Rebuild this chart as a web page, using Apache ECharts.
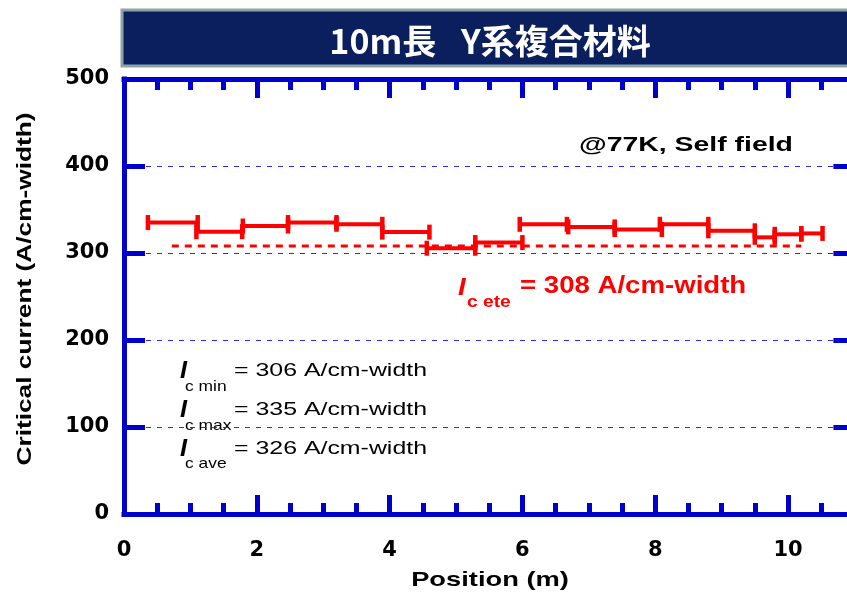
<!DOCTYPE html>
<html>
<head>
<meta charset="utf-8">
<script src="https://cdn.jsdelivr.net/npm/echarts@6/dist/echarts.min.js"></script>
<style>
html,body{margin:0;padding:0;background:#fff;}
#chart{width:847px;height:595px;}
</style>
</head>
<body>
<div id="chart"></div>
<script>
// ---- data ----
const segStart = [0.36, 1.09, 1.79, 2.47, 3.20, 3.89, 4.56, 5.29, 5.96, 6.69, 7.39, 8.07, 8.80, 9.50, 9.80, 10.20];
const segEnd   = [1.11, 1.78, 2.47, 3.20, 3.89, 4.60, 5.29, 6.00, 6.67, 7.39, 8.10, 8.80, 9.50, 9.80, 10.20, 10.52];
const icValues = [335, 324.5, 331, 335, 333, 324, 305.5, 312, 333, 330, 327, 333, 325.5, 318, 321.5, 322.5];
const eteRange = [0.72, 10.2];
const eteValue = 308;
const titleText = '10m長\u2002 Y系複合材料';
const xTitle = 'Position (m)';
const yTitle = 'Critical current (A/cm-width)';
const condText = '@77K, Self field';
const statSubs = ['c min', 'c max', 'c ave'];
const statTexts = ['= 306 A/cm-width', '= 335 A/cm-width', '= 326 A/cm-width'];
const eteSub = 'c ete';
const eteText = '= 308 A/cm-width';

const BLUE = '#0000cc';
const RED = '#ff0000';
const chart = echarts.init(document.getElementById('chart'), null, {renderer: 'canvas'});

const segData = segStart.map((s, i) => [s, segEnd[i], icValues[i]]);

const axisFont = {fontFamily: 'DejaVu Sans', fontWeight: 'bold', fontSize: 21, color: '#000'};

function xAxisCfg(pos, showLabel) {
  return {
    type: 'value', position: pos, min: 0, max: 12, interval: 2,
    axisLine: {show: true, onZero: false, lineStyle: {color: BLUE, width: 5, cap: 'square'}},
    axisTick: {show: true, inside: true, length: 19, lineStyle: {color: BLUE, width: 5}},
    minorTick: {show: true, splitNumber: 4, length: 11, lineStyle: {color: BLUE, width: 5}},
    axisLabel: Object.assign({show: showLabel, margin: 26, showMaxLabel: false}, axisFont),
    splitLine: {show: false}
  };
}

const statGraphics = [];
const rowY = [372, 411, 450];
const subY = [387, 426, 464];
for (let i = 0; i < 3; i++) {
  statGraphics.push({type: 'text', x: 180, y: rowY[i], scaleX: 1.1,
    style: {text: 'I', fontFamily: 'Liberation Sans', fontStyle: 'italic', fontWeight: 'bold', fontSize: 23, fill: '#000', align: 'left', verticalAlign: 'middle'}});
  statGraphics.push({type: 'text', x: 185, y: subY[i], scaleX: 1.2,
    style: {text: statSubs[i], fontFamily: 'Liberation Sans', fontSize: 14.5, fill: '#000', align: 'left', verticalAlign: 'middle'}});
  statGraphics.push({type: 'text', x: 234, y: rowY[i] - 1, scaleX: 1.31,
    style: {text: statTexts[i], fontFamily: 'Liberation Sans', fontSize: 19, fill: '#000', align: 'left', verticalAlign: 'middle'}});
}

const option = {
  animation: false,
  backgroundColor: '#fff',
  grid: {left: 124, top: 79, width: 796.8, height: 435, containLabel: false, outerBoundsMode: 'none'},
  xAxis: [xAxisCfg('bottom', true), xAxisCfg('top', false)],
  yAxis: [
    {
      type: 'value', position: 'left', min: 0, max: 500, interval: 100,
      axisLine: {show: true, onZero: false, lineStyle: {color: BLUE, width: 5, cap: 'square'}},
      axisTick: {show: true, inside: true, length: 21, lineStyle: {color: BLUE, width: 5}},
      axisLabel: Object.assign({margin: 15}, axisFont),
      splitLine: {show: true, lineStyle: {color: '#2a2ad8', width: 1, type: [5, 6]}}
    },
    {
      type: 'value', position: 'right', offset: -66.4, min: 0, max: 500, interval: 100,
      axisLine: {show: true, onZero: false, lineStyle: {color: BLUE, width: 5, cap: 'square'}},
      axisTick: {show: true, inside: true, length: 21, lineStyle: {color: BLUE, width: 5}},
      axisLabel: {show: false},
      splitLine: {show: false}
    }
  ],
  series: [
    {
      type: 'line', name: 'ete', xAxisIndex: 0, yAxisIndex: 0, z: 3,
      data: [[eteRange[0], eteValue], [eteRange[1], eteValue]],
      symbol: 'none',
      lineStyle: {color: RED, width: 3, type: [7, 6]}
    },
    {
      type: 'custom', name: 'Ic', xAxisIndex: 0, yAxisIndex: 0, z: 4,
      data: segData,
      encode: {x: [0, 1], y: 2},
      renderItem: function (params, api) {
        const s = api.coord([api.value(0), api.value(2)]);
        const e = api.coord([api.value(1), api.value(2)]);
        const capH = 15, capW = 4.5;
        return {
          type: 'group',
          children: [
            {type: 'line', shape: {x1: s[0], y1: s[1], x2: e[0], y2: e[1]}, style: {stroke: RED, lineWidth: 4}},
            {type: 'rect', shape: {x: s[0] - capW / 2, y: s[1] - capH / 2, width: capW, height: capH}, style: {fill: RED}},
            {type: 'rect', shape: {x: e[0] - capW / 2, y: e[1] - capH / 2, width: capW, height: capH}, style: {fill: RED}}
          ]
        };
      }
    }
  ],
  graphic: [
    {type: 'rect', z: 10, shape: {x: 122, y: 10, width: 740, height: 56},
      style: {fill: '#0b1f5e', stroke: '#8fa3a6', lineWidth: 3}},
    {type: 'text', z: 11, x: 490, y: 41,
      style: {text: titleText, fontFamily: 'Noto Sans CJK JP', fontWeight: 'bold', fontSize: 34, fill: '#fff', align: 'center', verticalAlign: 'middle'}},
    {type: 'text', x: 490, y: 580, scaleX: 1.3,
      style: {text: xTitle, fontFamily: 'Liberation Sans', fontWeight: 'bold', fontSize: 21, fill: '#000', align: 'center', verticalAlign: 'middle'}},
    {type: 'text', x: 25, y: 289, rotation: Math.PI / 2, scaleX: 1.25,
      style: {text: yTitle, fontFamily: 'Liberation Sans', fontWeight: 'bold', fontSize: 21, fill: '#000', align: 'center', verticalAlign: 'middle'}},
    {type: 'text', x: 579, y: 145, scaleX: 1.42,
      style: {text: condText, fontFamily: 'Liberation Sans', fontWeight: 'bold', fontSize: 20, fill: '#000', align: 'left', verticalAlign: 'middle'}},
    {type: 'text', x: 458, y: 288, scaleX: 1.15,
      style: {text: 'I', fontFamily: 'Liberation Sans', fontStyle: 'italic', fontWeight: 'bold', fontSize: 24, fill: RED, align: 'left', verticalAlign: 'middle'}},
    {type: 'text', x: 467, y: 302, scaleX: 1.13,
      style: {text: eteSub, fontFamily: 'Liberation Sans', fontWeight: 'bold', fontSize: 17, fill: RED, align: 'left', verticalAlign: 'middle'}},
    {type: 'text', x: 520, y: 287, scaleX: 1.2,
      style: {text: eteText, fontFamily: 'Liberation Sans', fontWeight: 'bold', fontSize: 23, fill: RED, align: 'left', verticalAlign: 'middle'}}
  ].concat(statGraphics)
};
chart.setOption(option);
</script>
</body>
</html>
